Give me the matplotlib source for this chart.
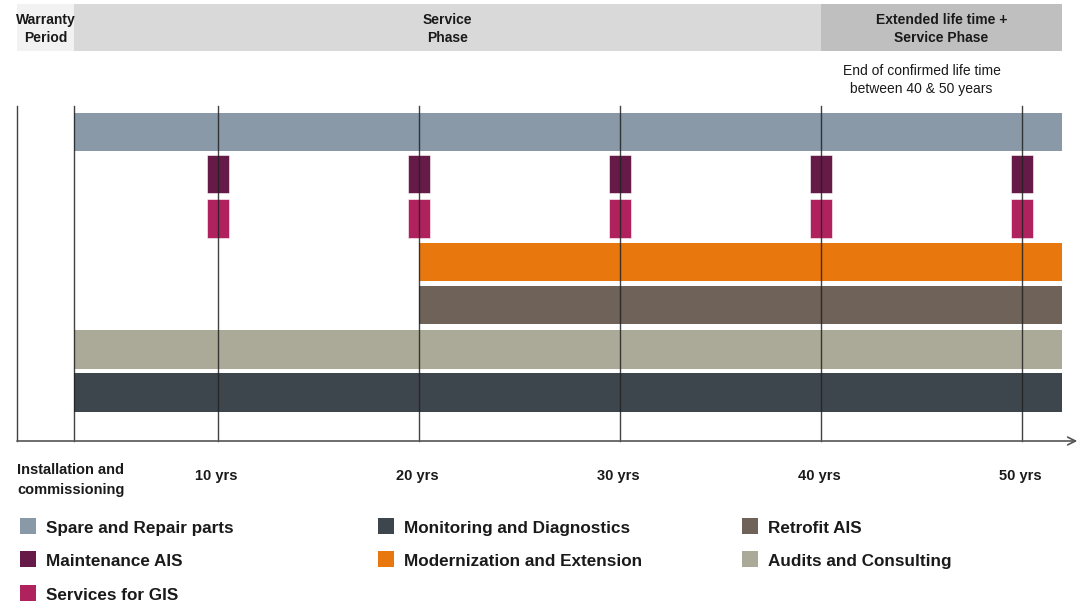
import matplotlib.pyplot as plt
from matplotlib.patches import Rectangle

plt.rcParams['font.family'] = ['Liberation Sans', 'DejaVu Sans']

# timeline data (years)
warranty_end = 2.85
extended_start = 40
timeline_end = 52
milestones = [10, 20, 30, 40, 50]
tick_labels = ['10 yrs', '20 yrs', '30 yrs', '40 yrs', '50 yrs']
first_label = 'Installation and\ncommissioning'

phase_names = ['Warranty\nPeriod', 'Service\nPhase', 'Extended life time +\nService Phase']
phase_starts = [0, warranty_end, extended_start]
phase_ends = [warranty_end, extended_start, timeline_end]
phase_colors = ['#f2f2f2', '#d9d9d9', '#bfbfbf']

services = ['Spare and Repair parts', 'Maintenance AIS', 'Services for GIS',
            'Modernization and Extension', 'Retrofit AIS', 'Audits and Consulting',
            'Monitoring and Diagnostics']
service_colors = ['#8999a8', '#661a47', '#b0225e', '#e8770e', '#6e6259', '#aba997', '#3e464d']
# continuous services: start, end ; None = periodic (at milestones)
service_starts = [warranty_end, None, None, 20, 20, warranty_end, warranty_end]
service_ends = [timeline_end, None, None, timeline_end, timeline_end, timeline_end, timeline_end]
periodic_width = 1.08

note = 'End of confirmed life time\nbetween 40 & 50 years'

# layout (pixel rows)
row_y = [132, 174, 218.5, 262, 305, 349.5, 392.5]
bar_h = 38.5
px_per_year = 20.1
x0_px = 17

fig = plt.figure(figsize=(10.79, 6.02), dpi=100)
ax = fig.add_axes([0, 0, 1, 1])
ax.set_xlim(-x0_px / px_per_year, (1079 - x0_px) / px_per_year)
ax.set_ylim(602, 0)
ax.axis('off')

# phase header
for name, s, e, c in zip(phase_names, phase_starts, phase_ends, phase_colors):
    ax.add_patch(Rectangle((s, 4), e - s, 47, color=c, lw=0, zorder=1))
    ax.text((s + e) / 2, 29, name, ha='center', va='center', fontsize=10,
            fontweight='bold', color='#1a1a1a', linespacing=1.4)

ax.text((milestones[3] + milestones[4]) / 2, 80, note, ha='center', va='center',
        fontsize=10, color='#1a1a1a', linespacing=1.35)

# bars
for y, c, s, e in zip(row_y, service_colors, service_starts, service_ends):
    if s is None:
        for m in milestones:
            ax.add_patch(Rectangle((m - periodic_width / 2, y - bar_h / 2), periodic_width, bar_h,
                                   facecolor=c, edgecolor='#ffffff', lw=0.4, zorder=2))
    else:
        ax.barh(y, e - s, left=s, height=bar_h, color=c, zorder=2)

# grid lines
for xv in [0, warranty_end] + milestones:
    ax.plot([xv, xv], [106, 441], color='#222222', lw=1, alpha=0.85, zorder=3)

# baseline with arrow
ax.annotate('', xy=(52.75, 441), xytext=(0, 441), annotation_clip=False,
            arrowprops=dict(arrowstyle='->', color='#555555', lw=1.2,
                            mutation_scale=14, shrinkA=0, shrinkB=0), zorder=3)

# tick labels
ax.text(0, 480, first_label, ha='left', va='center', fontsize=10.5,
        fontweight='bold', color='#1a1a1a', linespacing=1.55)
for m, lab in zip(milestones, tick_labels):
    ax.text(m - 0.1, 476, lab, ha='center', va='center', fontsize=10.5,
            fontweight='bold', color='#1a1a1a')

# legend
legend_cols = [[0, 1, 2], [6, 3], [4, 5]]
col_x = [20, 378, 742]
legend_y = [526, 559, 593]
for cx, idxs in zip(col_x, legend_cols):
    for ly, i in zip(legend_y, idxs):
        xs = (cx - x0_px) / px_per_year
        ax.add_patch(Rectangle((xs, ly - 8), 16 / px_per_year, 16, color=service_colors[i], lw=0))
        ax.text(xs + 26 / px_per_year, ly + 1, services[i], ha='left', va='center_baseline',
                fontsize=12.3, fontweight='bold', color='#1a1a1a')

fig.savefig('out.png', dpi=100)
